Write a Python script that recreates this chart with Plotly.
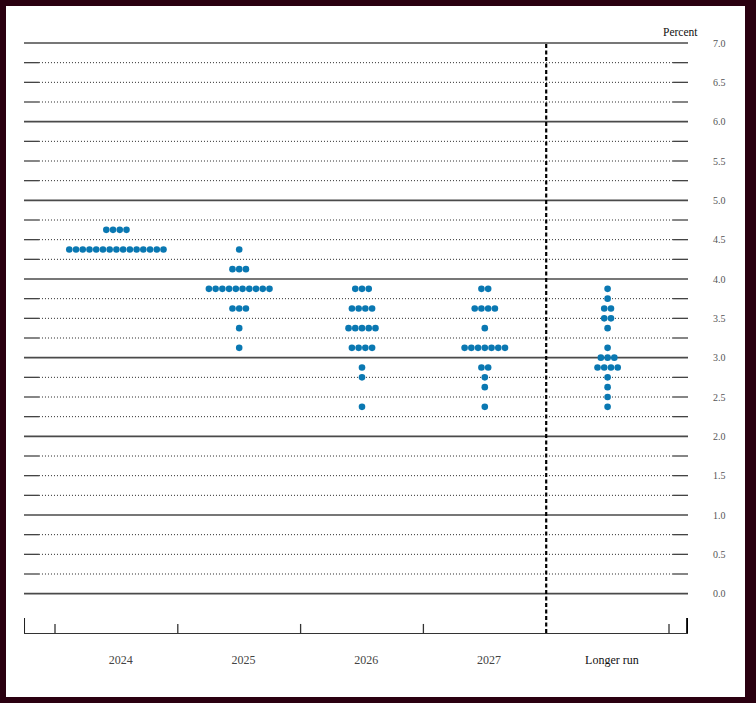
import plotly.graph_objects as go

# ---- data ----
categories = ["2024", "2025", "2026", "2027", "Longer run"]

rates_2024 = [4.625, 4.375]
counts_2024 = [4, 15]

rates_2025 = [4.375, 4.125, 3.875, 3.625, 3.375, 3.125]
counts_2025 = [1, 3, 10, 3, 1, 1]

rates_2026 = [3.875, 3.625, 3.375, 3.125, 2.875, 2.75, 2.375]
counts_2026 = [3, 4, 5, 4, 1, 1, 1]

rates_2027 = [3.875, 3.625, 3.375, 3.125, 2.875, 2.75, 2.625, 2.375]
counts_2027 = [2, 4, 1, 7, 2, 1, 1, 1]

rates_lr = [3.875, 3.75, 3.625, 3.5, 3.375, 3.125, 3.0, 2.875, 2.75, 2.625, 2.5, 2.375]
counts_lr = [1, 1, 2, 2, 1, 1, 3, 4, 1, 1, 1, 1]

y_ticks = [0.0, 0.5, 1.0, 1.5, 2.0, 2.5, 3.0, 3.5, 4.0, 4.5, 5.0, 5.5, 6.0, 6.5, 7.0]

# ---- layout constants ----
DOT_COLOR = "#0a78b2"
SPACING = 0.0548
X_MIN, X_MAX = -0.7524, 4.6547
Y_MIN, Y_MAX = -0.5, 7.0127
END_SEG = 0.122  # short solid segment at both ends of dotted lines
SERIF = "Liberation Serif, Times New Roman, serif"

series = [
    (rates_2024, counts_2024),
    (rates_2025, counts_2025),
    (rates_2026, counts_2026),
    (rates_2027, counts_2027),
    (rates_lr, counts_lr),
]

xs, ys = [], []
for ci, (rates, counts) in enumerate(series):
    for r, n in zip(rates, counts):
        for k in range(n):
            xs.append(ci + (k - (n - 1) / 2) * SPACING)
            ys.append(r)

fig = go.Figure()
fig.add_trace(go.Scatter(
    x=xs, y=ys, mode="markers",
    marker=dict(color=DOT_COLOR, size=6.6, line=dict(width=0)),
    hoverinfo="skip", showlegend=False,
))

shapes = []
# horizontal grid lines every 0.25
for i in range(0, 29):
    v = i * 0.25
    if i % 4 == 0:
        shapes.append(dict(type="line", xref="x", yref="y", x0=X_MIN, x1=X_MAX, y0=v, y1=v,
                           line=dict(color="#4a4a4a", width=1.6), layer="below"))
    else:
        shapes.append(dict(type="line", xref="x", yref="y", x0=X_MIN + END_SEG, x1=X_MAX - END_SEG,
                           y0=v, y1=v, line=dict(color="#2a2a2a", width=1, dash="1px,2px"), layer="below"))
        shapes.append(dict(type="line", xref="x", yref="y", x0=X_MIN, x1=X_MIN + END_SEG, y0=v, y1=v,
                           line=dict(color="#444444", width=1.3), layer="below"))
        shapes.append(dict(type="line", xref="x", yref="y", x0=X_MAX - END_SEG, x1=X_MAX, y0=v, y1=v,
                           line=dict(color="#444444", width=1.3), layer="below"))

# bottom axis ticks between categories
for t in [-0.5, 0.5, 1.5, 2.5, 4.5]:
    shapes.append(dict(type="line", xref="x", yref="y", x0=t, x1=t, y0=Y_MIN, y1=Y_MIN + 0.115,
                       line=dict(color="#333333", width=1.3)))
# end ticks
shapes.append(dict(type="line", xref="x", yref="y", x0=X_MIN + 0.003, x1=X_MIN + 0.003, y0=Y_MIN, y1=Y_MIN + 0.19,
                   line=dict(color="#222222", width=1.3)))
shapes.append(dict(type="line", xref="x", yref="y", x0=X_MAX - 0.006, x1=X_MAX - 0.006, y0=Y_MIN, y1=Y_MIN + 0.19,
                   line=dict(color="#000000", width=2.2)))
# vertical dashed separator before longer run
shapes.append(dict(type="line", xref="x", yref="y", x0=3.5, x1=3.5, y0=Y_MIN, y1=7.0,
                   line=dict(color="#000000", width=2.2, dash="4px,2.5px")))
# white inner panel over the dark frame
shapes.append(dict(type="rect", xref="paper", yref="paper",
                   x0=(6 - 24) / 664, x1=(745 - 24) / 664,
                   y0=(633 - 697) / 591, y1=(633 - 6) / 591,
                   fillcolor="white", line=dict(width=0), layer="below"))

fig.update_layout(
    width=756, height=703,
    margin=dict(l=24, r=68, t=42, b=70),
    paper_bgcolor="#2a0010",
    plot_bgcolor="rgba(0,0,0,0)",
    shapes=shapes,
    font=dict(family=SERIF, color="#444444"),
    xaxis=dict(
        range=[X_MIN, X_MAX], showgrid=False, zeroline=False,
        showline=True, linecolor="#333333", linewidth=1.3,
        tickvals=[i + 0.035 for i in range(len(categories))],
        ticktext=categories[:-1] + ['<span style="color:#111111">' + categories[-1] + '</span>'],
        ticks="", ticklabelstandoff=15,
        tickfont=dict(family=SERIF, size=12, color="#444444"),
        fixedrange=True,
    ),
    yaxis=dict(
        range=[Y_MIN, Y_MAX], side="right", showgrid=False, zeroline=False,
        showline=False,
        tickvals=y_ticks, ticktext=[f"{v:.1f}" for v in y_ticks],
        ticks="", ticklabelstandoff=24,
        tickfont=dict(family=SERIF, size=10, color="#555555"),
        fixedrange=True,
    ),
    annotations=[dict(
        text="Percent", xref="paper", yref="paper",
        x=(700 - 24) / 664, y=(633 - 32) / 591, xanchor="right", yanchor="middle",
        showarrow=False, font=dict(family=SERIF, size=11.5, color="#111111"),
    )],
)

fig.write_html(
    "out.html",
    config={"displayModeBar": False},
    post_script="document.body.style.margin='0';document.body.style.overflow='hidden';",
)
